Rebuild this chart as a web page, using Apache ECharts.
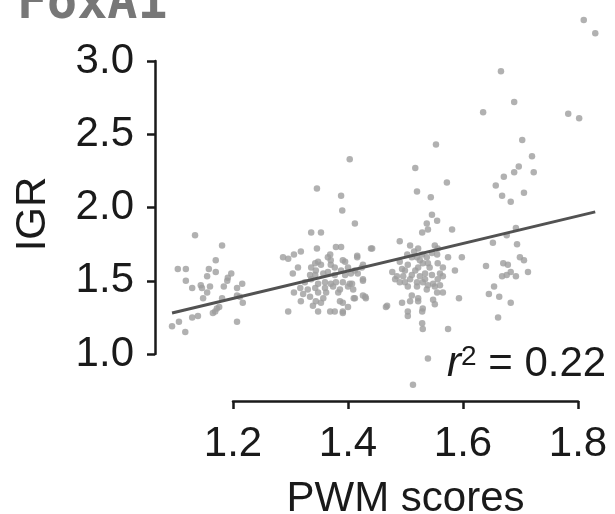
<!DOCTYPE html>
<html>
<head>
<meta charset="utf-8">
<script src="https://cdn.jsdelivr.net/npm/echarts@6/dist/echarts.min.js"></script>
<style>
  html, body { margin: 0; padding: 0; background: #fff; }
  #chart { width: 615px; height: 514px; }
</style>
</head>
<body>
<div id="chart"></div>
<script>
// PWM score bins (x) and IGR values (y)
const bin1Pwm = [1.134,1.181,1.170,1.104,1.118,1.158,1.170,1.197,1.155,1.118,1.191,1.190,1.184,1.144,1.160,1.146,1.129,1.216,1.207,1.155,1.207,1.148,1.181,1.212,1.217,1.172,1.169,1.165,1.176,1.129,1.139,1.094,1.106,1.207,1.117];
const bin1Igr = [1.81,1.74,1.64,1.58,1.58,1.58,1.56,1.55,1.53,1.50,1.52,1.50,1.46,1.47,1.46,1.45,1.45,1.48,1.45,1.42,1.40,1.38,1.38,1.39,1.35,1.31,1.29,1.28,1.32,1.25,1.26,1.19,1.22,1.22,1.15];

const bin2Pwm = [1.403,1.346,1.388,1.390,1.412,1.336,1.353,1.346,1.379,1.388,1.440,1.287,1.296,1.306,1.318,1.369,1.365,1.370,1.416,1.395,1.343,1.348,1.353,1.336,1.344,1.313,1.370,1.377,1.388,1.400,1.412,1.426,1.304,1.334,1.343,1.357,1.365,1.377,1.395,1.405,1.417,1.325,1.336,1.348,1.360,1.370,1.379,1.403,1.400,1.426,1.317,1.330,1.343,1.360,1.374,1.386,1.306,1.322,1.334,1.348,1.362,1.383,1.409,1.344,1.357,1.339,1.353,1.318,1.386,1.391,1.412,1.426,1.431,1.466,1.348,1.369,1.377,1.391,1.296,1.400,1.442,1.391,1.416,1.424,1.426,1.391,1.407,1.410,1.430,1.391];
const bin2Igr = [2.33,2.13,2.08,1.98,1.89,1.83,1.83,1.72,1.73,1.73,1.72,1.66,1.65,1.68,1.70,1.68,1.66,1.64,1.67,1.63,1.62,1.63,1.61,1.59,1.57,1.59,1.61,1.59,1.57,1.59,1.57,1.61,1.55,1.54,1.54,1.55,1.56,1.54,1.54,1.55,1.55,1.49,1.51,1.48,1.49,1.48,1.49,1.48,1.46,1.50,1.45,1.44,1.45,1.45,1.46,1.44,1.42,1.41,1.39,1.42,1.42,1.42,1.44,1.36,1.38,1.33,1.35,1.36,1.36,1.35,1.38,1.40,1.38,1.32,1.29,1.29,1.29,1.29,1.29,1.32,1.72,1.64,1.66,1.59,1.51,1.49,1.48,1.38,1.39,1.28];

const bin3Pwm = [1.553,1.517,1.572,1.520,1.544,1.546,1.555,1.537,1.529,1.539,1.581,1.490,1.508,1.522,1.515,1.551,1.556,1.503,1.511,1.520,1.529,1.537,1.546,1.555,1.574,1.598,1.490,1.477,1.504,1.522,1.530,1.539,1.556,1.565,1.586,1.485,1.496,1.490,1.511,1.525,1.534,1.546,1.560,1.565,1.556,1.499,1.504,1.520,1.530,1.539,1.537,1.551,1.565,1.511,1.522,1.522,1.494,1.468,1.548,1.551,1.593,1.530,1.529,1.504,1.504,1.529,1.530,1.574,1.539,1.513,1.482,1.508,1.494,1.525,1.542,1.534,1.548,1.517,1.508,1.560,1.555,1.520,1.499];
const bin3Igr = [2.43,2.27,2.17,2.11,2.07,1.95,1.91,1.89,1.83,1.85,1.85,1.77,1.74,1.72,1.70,1.74,1.72,1.68,1.66,1.66,1.68,1.66,1.69,1.68,1.66,1.66,1.63,1.56,1.61,1.59,1.62,1.62,1.62,1.59,1.57,1.53,1.53,1.49,1.54,1.53,1.55,1.54,1.55,1.53,1.51,1.49,1.46,1.46,1.49,1.47,1.44,1.46,1.42,1.40,1.38,1.36,1.35,1.33,1.37,1.34,1.38,1.31,1.29,1.29,1.26,1.21,1.17,1.17,0.97,0.79,1.51,1.36,1.58,1.64,1.59,1.51,1.48,1.57,1.51,1.47,1.42,1.49,1.57];

const bin4Pwm = [1.810,1.830,1.666,1.689,1.635,1.783,1.802,1.703,1.720,1.697,1.689,1.671,1.723,1.657,1.668,1.683,1.706,1.692,1.676,1.652,1.694,1.640,1.670,1.678,1.699,1.706,1.713,1.668,1.676,1.683,1.692,1.654,1.645,1.663,1.683,1.661];
const bin4Igr = [3.28,3.19,2.93,2.72,2.65,2.64,2.61,2.46,2.35,2.28,2.24,2.21,2.24,2.15,2.08,2.04,2.10,1.86,1.81,1.76,1.75,1.60,1.62,1.61,1.66,1.64,1.56,1.53,1.54,1.56,1.53,1.46,1.41,1.39,1.35,1.25];

// regression line end points
const fitPwm = [1.094, 1.830];
const fitIgr = [1.28, 1.97];

const xTicks = [1.2, 1.4, 1.6, 1.8];
const yTicks = [1.0, 1.5, 2.0, 2.5, 3.0];
const rSquared = '0.22';

const font = '"Liberation Sans", Arial, Helvetica, sans-serif';
const ink = '#1a1a1a';

function zip(xs, ys) {
  const out = [];
  for (let i = 0; i < Math.min(xs.length, ys.length); i++) out.push([xs[i], ys[i]]);
  return out;
}

const points = [].concat(
  zip(bin1Pwm, bin1Igr),
  zip(bin2Pwm, bin2Igr),
  zip(bin3Pwm, bin3Igr),
  zip(bin4Pwm, bin4Igr)
);

const chart = echarts.init(document.getElementById('chart'), null, { renderer: 'canvas' });

// grid 0: data area (axes hidden), same scale as grid 1 but wider extent
// grid 1: the visible, offset axes spanning only the tick range
const pxPerX = 575;   // px per PWM unit
const pxPerY = 146.5; // px per IGR unit
const dataX = [1.08, 1.84];
const dataY = [0.75, 3.35];
const axisBox = { left: 233, right: 37, top: 61, bottom: 160, outerBoundsMode: 'none' };
const dataBox = {
  left: axisBox.left - (xTicks[0] - dataX[0]) * pxPerX,
  top: axisBox.top - (dataY[1] - yTicks[yTicks.length - 1]) * pxPerY,
  width: (dataX[1] - dataX[0]) * pxPerX,
  height: (dataY[1] - dataY[0]) * pxPerY,
  outerBoundsMode: 'none'
};

const axisLine = { show: true, onZero: false, lineStyle: { color: ink, width: 2.5 } };
const axisTick = { show: true, length: 8, lineStyle: { color: ink, width: 2.5 } };
const labelStyle = { color: ink, fontSize: 42, fontFamily: font };

chart.setOption({
  animation: false,
  grid: [dataBox, axisBox],
  xAxis: [
    { type: 'value', gridIndex: 0, min: dataX[0], max: dataX[1], show: false, splitLine: { show: false } },
    {
      type: 'value', gridIndex: 1,
      min: xTicks[0], max: xTicks[xTicks.length - 1], interval: 0.2,
      offset: 47,
      splitLine: { show: false },
      axisLine: axisLine, axisTick: axisTick,
      axisLabel: Object.assign({ margin: 22, formatter: v => v.toFixed(1) }, labelStyle),
      name: 'PWM scores', nameLocation: 'middle', nameGap: 77,
      nameTextStyle: labelStyle
    }
  ],
  yAxis: [
    { type: 'value', gridIndex: 0, min: dataY[0], max: dataY[1], show: false, splitLine: { show: false } },
    {
      type: 'value', gridIndex: 1,
      min: yTicks[0], max: yTicks[yTicks.length - 1], interval: 0.5,
      offset: 78,
      splitLine: { show: false },
      axisLine: axisLine, axisTick: axisTick,
      axisLabel: Object.assign({ margin: 21, formatter: v => v.toFixed(1) }, labelStyle)
    }
  ],
  series: [
    {
      type: 'scatter',
      xAxisIndex: 0, yAxisIndex: 0,
      data: points,
      symbol: 'circle',
      symbolSize: 6.5,
      silent: true,
      itemStyle: { color: '#9e9e9e' }
    },
    {
      type: 'line',
      xAxisIndex: 0, yAxisIndex: 0,
      data: zip(fitPwm, fitIgr),
      showSymbol: false,
      silent: true,
      z: 5,
      lineStyle: { color: '#525252', width: 3 }
    }
  ],
  graphic: [
    {
      type: 'text',
      x: 17,
      y: -20,
      style: {
        text: 'FoxA1',
        fill: '#777777',
        font: 'bold 50px "DejaVu Sans Mono", monospace',
        verticalAlign: 'top'
      }
    },
    {
      type: 'text',
      x: 33,
      y: 214,
      rotation: Math.PI / 2,
      style: {
        text: 'IGR',
        fill: ink,
        font: '42px ' + font,
        align: 'center',
        verticalAlign: 'middle'
      }
    },
    {
      type: 'text',
      x: 447,
      y: 343,
      style: {
        text: '{i|r}{s|2}{n| = ' + rSquared + '}',
        fill: ink,
        verticalAlign: 'top',
        rich: {
          i: { fontStyle: 'italic', fontSize: 42, fontFamily: font },
          s: { fontSize: 28, fontFamily: font, verticalAlign: 'top' },
          n: { fontSize: 42, fontFamily: font }
        }
      }
    }
  ]
});
</script>
</body>
</html>
